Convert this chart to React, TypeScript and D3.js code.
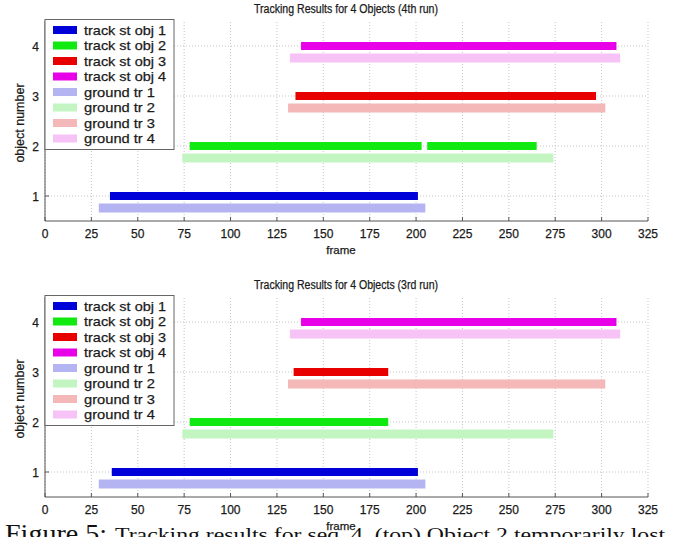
import * as d3 from "d3";

// [object, start frame, end frame]
const run4Tracks = [
  [1, 35, 201],
  [2, 78, 203],
  [2, 206, 265],
  [3, 135, 297],
  [4, 138, 308],
];
const run4Ground = [
  [1, 29, 205],
  [2, 74, 274],
  [3, 131, 302],
  [4, 132, 310],
];
const run3Tracks = [
  [1, 36, 201],
  [2, 78, 185],
  [3, 134, 185],
  [4, 138, 308],
];
const run3Ground = [
  [1, 29, 205],
  [2, 74, 274],
  [3, 131, 302],
  [4, 132, 310],
];

const trackColors = ["#0000d8", "#10ea10", "#e80000", "#e800e8"];
const groundColors = ["#b4b4f2", "#c2f5c2", "#f5b8b8", "#f7c2f5"];
const legendLabels = [
  "track st obj 1",
  "track st obj 2",
  "track st obj 3",
  "track st obj 4",
  "ground tr 1",
  "ground tr 2",
  "ground tr 3",
  "ground tr 4",
];
const xTicks = d3.range(0, 326, 25);
const yTicks = [1, 2, 3, 4];

const font = "Arial, 'Liberation Sans', sans-serif";
const serif = "'Liberation Serif', 'Times New Roman', serif";

const Chart = ({ top, title, tracks, ground }) => {
  const x = d3.scaleLinear([0, 325], [45, 648]);
  const y = d3.scaleLinear([0.5, 4.5], [top + 200, top]);
  const barH = 8;
  const gOff = 0.24;
  const bottom = y(0.5);
  const txt = { fontFamily: font, fill: "#1a1a1a", stroke: "#1a1a1a", strokeWidth: 0.25 };

  return (
    <g>
      <text x={346} y={top - 8.5} textAnchor="middle" fontSize={12} textLength={184} lengthAdjust="spacingAndGlyphs" {...txt}>
        {title}
      </text>
      {/* grid */}
      {xTicks.map((t) => (
        <line key={"gx" + t} x1={x(t)} x2={x(t)} y1={bottom} y2={top + 1} stroke="#bdbdbd" strokeWidth={0.9} strokeDasharray="1,2" />
      ))}
      {yTicks.map((t) => (
        <line key={"gy" + t} x1={x(0)} x2={x(325)} y1={y(t)} y2={y(t)} stroke="#bdbdbd" strokeWidth={0.9} strokeDasharray="1,2" />
      ))}
      {/* ground truth */}
      {ground.map((d, i) => (
        <rect key={"g" + i} x={x(d[1])} width={x(d[2]) - x(d[1])} y={y(d[0] - gOff) - barH / 2 - 0.5} height={barH + 1} fill={groundColors[d[0] - 1]} />
      ))}
      {/* tracks */}
      {tracks.map((d, i) => (
        <rect key={"t" + i} x={x(d[1])} width={x(d[2]) - x(d[1])} y={y(d[0]) - barH / 2} height={barH} fill={trackColors[d[0] - 1]} />
      ))}
      {/* axes */}
      <line x1={x(0)} x2={x(325)} y1={bottom} y2={bottom} stroke="#555" strokeWidth={1} />
      <line x1={x(0)} x2={x(0)} y1={bottom} y2={top} stroke="#555" strokeWidth={1} />
      {xTicks.map((t) => (
        <g key={"xt" + t}>
          <line x1={x(t)} x2={x(t)} y1={bottom} y2={bottom - 4} stroke="#555" />
          <text x={x(t)} y={bottom + 16.5} textAnchor="middle" fontSize={12} {...txt}>
            {t}
          </text>
        </g>
      ))}
      {yTicks.map((t) => (
        <g key={"yt" + t}>
          <line x1={x(0)} x2={x(0) + 4} y1={y(t)} y2={y(t)} stroke="#555" />
          <text x={39} y={y(t) + 4.5} textAnchor="end" fontSize={12} {...txt}>
            {t}
          </text>
        </g>
      ))}
      <text x={341} y={bottom + 33} textAnchor="middle" fontSize={11.5} {...txt}>
        frame
      </text>
      <text transform={`translate(24,${top + 102}) rotate(-90)`} textAnchor="middle" fontSize={12.5} {...txt}>
        object number
      </text>
      {/* legend */}
      <rect x={45} y={top - 1.5} width={129} height={130} fill="#fff" stroke="#666" strokeWidth={1} />
      {legendLabels.map((l, i) => {
        const cy = top + 9 + i * 15.5;
        const color = i < 4 ? trackColors[i] : groundColors[i - 4];
        return (
          <g key={l}>
            <rect x={53} y={cy - 4} width={24} height={8} fill={color} />
            <text x={84} y={cy + 4.5} fontSize={13.5} textLength={i < 4 ? 82 : 71} lengthAdjust="spacingAndGlyphs" {...txt}>
              {l}
            </text>
          </g>
        );
      })}
    </g>
  );
};

export default function App() {
  return (
    <svg width={683} height={537} style={{ position: "absolute", left: 0, top: 0, background: "#fff" }}>
      <rect width={683} height={537} fill="#fff" />
      <Chart top={21} title="Tracking Results for 4 Objects (4th run)" tracks={run4Tracks} ground={run4Ground} />
      <Chart top={297} title="Tracking Results for 4 Objects (3rd run)" tracks={run3Tracks} ground={run3Ground} />
      <text x={5} y={542} fontSize={26} fontFamily={serif} fill="#111" textLength={102} lengthAdjust="spacingAndGlyphs">
        Figure 5:
      </text>
      <text x={115} y={541} fontSize={19} fontFamily={serif} fill="#111" textLength={550} lengthAdjust="spacingAndGlyphs">
        Tracking results for seq. 4. (top) Object 2 temporarily lost
      </text>
    </svg>
  );
}
